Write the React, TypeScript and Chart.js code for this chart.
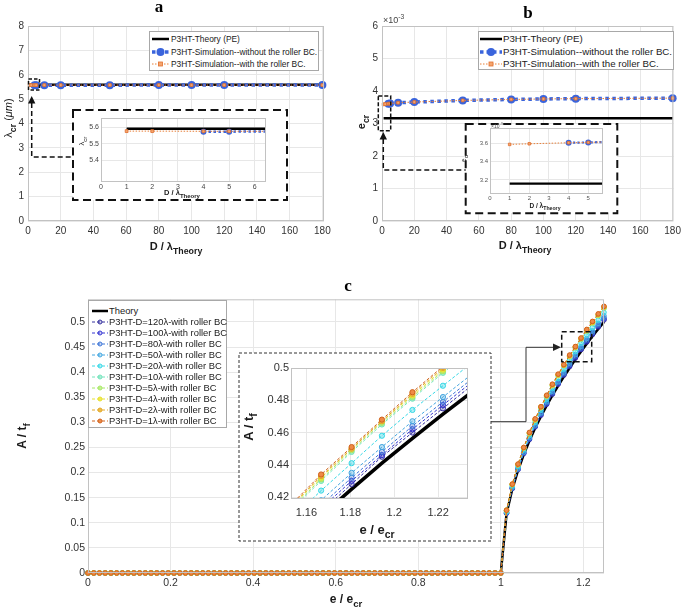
import React, { useEffect, useRef } from 'react';
import { Chart, registerables } from 'chart.js';

Chart.register(...registerables);

const FONT = '"Liberation Sans", Arial, Helvetica, sans-serif';
const SERIF = '"Liberation Serif", "Times New Roman", Times, serif';
Chart.defaults.font.family = FONT;

// ---------------- Panel a / b shared x data ----------------
const THEORY_D = [1, 180];
const NO_ROLLER_D = [4, 5, 10, 20, 50, 80, 100, 120, 180];
const ROLLER_D = [1, 2, 4, 5, 10, 20, 50, 80, 100, 120, 180];
const AB_X_TICKS = [0, 20, 40, 60, 80, 100, 120, 140, 160, 180];

// Panel a: lambda_cr (um)
const A_THEORY = [5.59, 5.59];
const A_NO_ROLLER = [5.573, 5.573, 5.574, 5.574, 5.574, 5.575, 5.575, 5.575, 5.575];
const A_ROLLER = [5.576, 5.576, 5.575, 5.575, 5.575, 5.575, 5.576, 5.576, 5.576, 5.576, 5.576];
const A_Y_TICKS = [0, 1, 2, 3, 4, 5, 6, 7, 8];
const A_INSET_X_TICKS = [0, 1, 2, 3, 4, 5, 6];
const A_INSET_Y_TICKS = [5.4, 5.5, 5.6];

// Panel b: e_cr (x 10^-3)
const B_THEORY = [3.16, 3.16];
const B_NO_ROLLER = [3.608, 3.612, 3.64, 3.66, 3.71, 3.74, 3.755, 3.765, 3.78];
const B_ROLLER = [3.59, 3.597, 3.608, 3.612, 3.64, 3.66, 3.71, 3.74, 3.755, 3.765, 3.78];
const B_Y_TICKS = [0, 1, 2, 3, 4, 5, 6];
const B_INSET_X_TICKS = [0, 1, 2, 3, 4, 5];
const B_INSET_Y_TICKS = [3.2, 3.4, 3.6];

// ---------------- Panel c ----------------
const C_X_TICKS = [0, 0.2, 0.4, 0.6, 0.8, 1, 1.2];
const C_Y_TICKS = [0, 0.05, 0.1, 0.15, 0.2, 0.25, 0.3, 0.35, 0.4, 0.45, 0.5];
const C_INSET_X_TICKS = [1.16, 1.18, 1.2, 1.22];
const C_INSET_Y_TICKS = [0.42, 0.44, 0.46, 0.48, 0.5];

// e / e_cr sample positions before buckling (0 .. 1)
const C_PRE_X = [
  0, 0.0139, 0.0278, 0.0417, 0.0556, 0.0694, 0.0833, 0.0972, 0.1111, 0.125,
  0.1389, 0.1528, 0.1667, 0.1806, 0.1944, 0.2083, 0.2222, 0.2361, 0.25, 0.2639,
  0.2778, 0.2917, 0.3056, 0.3194, 0.3333, 0.3472, 0.3611, 0.375, 0.3889, 0.4028,
  0.4167, 0.4306, 0.4444, 0.4583, 0.4722, 0.4861, 0.5, 0.5139, 0.5278, 0.5417,
  0.5556, 0.5694, 0.5833, 0.5972, 0.6111, 0.625, 0.6389, 0.6528, 0.6667, 0.6806,
  0.6944, 0.7083, 0.7222, 0.7361, 0.75, 0.7639, 0.7778, 0.7917, 0.8056, 0.8194,
  0.8333, 0.8472, 0.8611, 0.875, 0.8889, 0.9028, 0.9167, 0.9306, 0.9444, 0.9583,
  0.9722, 0.9861, 1,
];
// A / t_f before buckling (flat)
const C_PRE_ZERO = [
  0, 0, 0, 0, 0, 0, 0, 0, 0, 0,
  0, 0, 0, 0, 0, 0, 0, 0, 0, 0,
  0, 0, 0, 0, 0, 0, 0, 0, 0, 0,
  0, 0, 0, 0, 0, 0, 0, 0, 0, 0,
  0, 0, 0, 0, 0, 0, 0, 0, 0, 0,
  0, 0, 0, 0, 0, 0, 0, 0, 0, 0,
  0, 0, 0, 0, 0, 0, 0, 0, 0, 0,
  0, 0, 0,
];
// e / e_cr after buckling
const C_POST_X = [1.0139, 1.0278, 1.0417, 1.0556, 1.0694, 1.0833, 1.0972, 1.1111, 1.125, 1.1389, 1.1528, 1.1667, 1.1806, 1.1944, 1.2083, 1.2222, 1.2361, 1.25];
const C_THEORY_POST = [0.1179, 0.1667, 0.2041, 0.2357, 0.2635, 0.2887, 0.3118, 0.3333, 0.3536, 0.3727, 0.3909, 0.4082, 0.4249, 0.441, 0.4564, 0.4714, 0.4859, 0.5];
const C_D120 = [0.119, 0.168, 0.206, 0.238, 0.266, 0.291, 0.314, 0.336, 0.356, 0.376, 0.394, 0.411, 0.428, 0.445, 0.46, 0.475, 0.49, 0.504];
const C_D100 = [0.119, 0.169, 0.207, 0.239, 0.267, 0.292, 0.316, 0.337, 0.358, 0.377, 0.396, 0.413, 0.43, 0.446, 0.462, 0.477, 0.492, 0.506];
const C_D80 = [0.12, 0.169, 0.207, 0.24, 0.268, 0.293, 0.317, 0.339, 0.359, 0.379, 0.397, 0.415, 0.432, 0.448, 0.464, 0.479, 0.494, 0.508];
const C_D50 = [0.121, 0.171, 0.209, 0.241, 0.27, 0.295, 0.319, 0.341, 0.362, 0.381, 0.4, 0.418, 0.435, 0.451, 0.467, 0.482, 0.497, 0.512];
const C_D20 = [0.122, 0.173, 0.212, 0.245, 0.274, 0.3, 0.324, 0.346, 0.367, 0.387, 0.406, 0.424, 0.441, 0.458, 0.474, 0.489, 0.504, 0.519];
const C_D10 = [0.124, 0.176, 0.215, 0.248, 0.278, 0.304, 0.329, 0.351, 0.373, 0.393, 0.412, 0.43, 0.448, 0.465, 0.481, 0.497, 0.512, 0.527];
const C_D5 = [0.125, 0.176, 0.216, 0.249, 0.278, 0.305, 0.329, 0.352, 0.373, 0.394, 0.413, 0.431, 0.449, 0.466, 0.482, 0.498, 0.513, 0.528];
const C_D4 = [0.125, 0.176, 0.216, 0.249, 0.279, 0.305, 0.33, 0.353, 0.374, 0.394, 0.414, 0.432, 0.45, 0.467, 0.483, 0.499, 0.514, 0.529];
const C_D2 = [0.125, 0.177, 0.216, 0.25, 0.279, 0.306, 0.331, 0.353, 0.375, 0.395, 0.414, 0.433, 0.45, 0.467, 0.484, 0.5, 0.515, 0.53];
const C_D1 = [0.125, 0.177, 0.217, 0.25, 0.28, 0.307, 0.331, 0.354, 0.376, 0.396, 0.415, 0.434, 0.451, 0.468, 0.485, 0.501, 0.516, 0.531];
const C_LABELS = [
  'P3HT-D=120λ-with roller BC', 'P3HT-D=100λ-with roller BC', 'P3HT-D=80λ-with roller BC',
  'P3HT-D=50λ-with roller BC', 'P3HT-D=20λ-with roller BC', 'P3HT-D=10λ-with roller BC',
  'P3HT-D=5λ-with roller BC', 'P3HT-D=4λ-with roller BC', 'P3HT-D=2λ-with roller BC',
  'P3HT-D=1λ-with roller BC',
];
const C_POST = [C_D120, C_D100, C_D80, C_D50, C_D20, C_D10, C_D5, C_D4, C_D2, C_D1];

// ---------------- styles ----------------
const C_COLORS = ['#35309e', '#3535d2', '#3c74d6', '#42a6e0', '#36d8e6', '#74e4bc', '#a8e866', '#e6e030', '#e2a82a', '#d0621e'];
const C_FILLS = ['rgba(53,48,158,0.25)', 'rgba(53,53,210,0.25)', 'rgba(60,116,214,0.3)', 'rgba(66,166,224,0.35)', 'rgba(54,216,230,0.4)', 'rgba(116,228,188,0.6)', 'rgba(178,238,116,0.75)', 'rgba(238,232,58,0.85)', '#eebc48', '#ee8a46'];
const BLUE = '#3a64dc';
const ORANGE = '#e8803a';
const GRID = '#e7e7e7';
const FRAME = '#c2c2c2';
const TICK = '#333333';

const pts = (xs: number[], ys: number[]) => xs.map((x, i) => ({ x, y: ys[i] }));

const framePlugin = {
  id: 'frame',
  beforeDraw(chart: any, _a: any, o: any) {
    if (o && o.fill) {
      const { ctx, chartArea: c } = chart;
      ctx.save();
      ctx.fillStyle = o.fill;
      ctx.fillRect(c.left, c.top, c.right - c.left, c.bottom - c.top);
      ctx.restore();
    }
  },
  afterDraw(chart: any, _a: any, o: any) {
    const { ctx, chartArea: c } = chart;
    ctx.save();
    ctx.strokeStyle = (o && o.color) || FRAME;
    ctx.lineWidth = 1;
    ctx.strokeRect(c.left + 0.5, c.top + 0.5, c.right - c.left - 1, c.bottom - c.top - 1);
    ctx.restore();
  },
};

function linAxis(axis: 'x' | 'y', min: number, max: number, ticks: number[], thick: number, size: number, pad: number, color = TICK, fmt: (v: number) => string = (v) => String(v)) {
  return {
    type: 'linear',
    position: axis === 'x' ? 'bottom' : 'left',
    min,
    max,
    afterBuildTicks: (s: any) => {
      s.ticks = ticks.map((v) => ({ value: v }));
    },
    afterFit: (s: any) => {
      if (axis === 'x') s.height = thick;
      else s.width = thick;
    },
    grid: { color: GRID, lineWidth: 1, drawTicks: false },
    border: { display: false },
    ticks: {
      autoSkip: false,
      maxRotation: 0,
      minRotation: 0,
      padding: pad,
      color,
      font: { family: FONT, size },
      callback: (v: any) => fmt(Number(v)),
    },
  };
}

function cfg(datasets: any[], x: any, y: any, padTop: number, padRight: number, fill?: string) {
  return {
    type: 'line',
    data: { datasets },
    options: {
      responsive: false,
      maintainAspectRatio: false,
      animation: false,
      events: [],
      layout: { padding: { top: padTop, right: padRight, left: 0, bottom: 0 } },
      plugins: { legend: { display: false }, tooltip: { enabled: false }, frame: { fill } },
      scales: { x, y },
      elements: { line: { tension: 0, fill: false } },
    },
    plugins: [framePlugin],
  } as any;
}

function abSets(theory: number[], noRoller: number[], roller: number[], k: any) {
  return [
    { data: pts(THEORY_D, theory), borderColor: '#000', borderWidth: k.tw, pointRadius: 0, order: 3, clip: k.clip },
    {
      data: pts(NO_ROLLER_D, noRoller), borderColor: BLUE, borderWidth: k.bw, borderDash: k.bd,
      pointRadius: k.br, pointBackgroundColor: BLUE, pointBorderColor: BLUE, pointBorderWidth: 0, order: 2, clip: k.clip,
    },
    {
      data: pts(ROLLER_D, roller), borderColor: ORANGE, borderWidth: 1, borderDash: [1.5, 1.5], pointStyle: 'rect',
      pointRadius: k.or, pointBackgroundColor: '#f5a56e', pointBorderColor: '#e07030', pointBorderWidth: 0.8, order: 1, clip: k.clip,
    },
  ];
}

function cSets(inset: boolean) {
  const clip = inset ? undefined : false;
  const sets: any[] = [
    {
      data: pts([0, 1].concat(C_POST_X), [0, 0].concat(C_THEORY_POST)), borderColor: '#000',
      borderWidth: inset ? 3.5 : 2.5, pointRadius: 0, order: 20, clip,
    },
  ];
  C_POST.forEach((post, i) => {
    sets.push({
      data: pts(C_PRE_X.concat(C_POST_X), C_PRE_ZERO.concat(post)),
      borderColor: C_COLORS[i], borderWidth: 1, borderDash: [3, 2],
      pointRadius: inset ? 2.6 : 2.3, pointBorderWidth: 1, pointBorderColor: C_COLORS[i],
      pointBackgroundColor: C_FILLS[i], order: 10 - i, clip,
    });
  });
  return sets;
}

const makeA = () => cfg(abSets(A_THEORY, A_NO_ROLLER, A_ROLLER, { tw: 2.5, bw: 3.5, bd: [3.5, 3.5], br: 4, or: 2, clip: false }),
  linAxis('x', 0, 181, AB_X_TICKS, 20, 10, 4), linAxis('y', 0, 8, A_Y_TICKS, 28, 10, 4), 10, 16);
const makeAInset = () => cfg(abSets(A_THEORY, A_NO_ROLLER, A_ROLLER, { tw: 2.5, bw: 2.5, bd: [2.5, 2.5], br: 3, or: 2, clip: undefined }),
  linAxis('x', 0, 6.44, A_INSET_X_TICKS, 10, 7, 1, '#444'), linAxis('y', 5.27, 5.655, A_INSET_Y_TICKS, 27, 7, 2, '#444', (v) => v.toFixed(1)), 8, 14, '#ffffff');
const makeB = () => cfg(abSets(B_THEORY, B_NO_ROLLER, B_ROLLER, { tw: 2.5, bw: 3.5, bd: [3.5, 3.5], br: 4, or: 2, clip: false }),
  linAxis('x', 0, 180.5, AB_X_TICKS, 20, 10, 4), linAxis('y', 0, 6, B_Y_TICKS, 32, 10, 4), 10, 10);
const makeBInset = () => cfg(abSets(B_THEORY, B_NO_ROLLER, B_ROLLER, { tw: 2.2, bw: 2.2, bd: [2.2, 2.2], br: 3, or: 1.8, clip: undefined }),
  linAxis('x', 0, 5.75, B_INSET_X_TICKS, 9, 6, 1, '#555'), linAxis('y', 3.046, 3.77, B_INSET_Y_TICKS, 20, 6, 2, '#555', (v) => v.toFixed(1)), 7, 10, '#ffffff');
const makeC = () => cfg(cSets(false), linAxis('x', 0, 1.25, C_X_TICKS, 17, 10.5, 4), linAxis('y', 0, 0.545, C_Y_TICKS, 38, 10.5, 3), 9, 16);
const makeCInset = () => cfg(cSets(true), linAxis('x', 1.153, 1.2336, C_INSET_X_TICKS, 21, 11, 7), linAxis('y', 0.4188, 0.5, C_INSET_Y_TICKS, 51, 11, 2), 10, 12, '#ffffff');

function ChartBox({ l, t, w, h, make, z }: any) {
  const ref = useRef<HTMLCanvasElement>(null);
  useEffect(() => {
    const c = new Chart(ref.current as HTMLCanvasElement, make());
    return () => c.destroy();
  }, []);
  return <canvas ref={ref} width={w} height={h} style={{ position: 'absolute', left: l, top: t, width: w, height: h, zIndex: z }} />;
}

const Sub = ({ children }: any) => <span style={{ fontSize: '0.8em', position: 'relative', top: '0.42em' }}>{children}</span>;

function Label({ x, y, size, bold, rotate, family, color, children }: any) {
  return (
    <div style={{
      position: 'absolute', left: x, top: y, transform: `translate(-50%, -50%)${rotate ? ' rotate(-90deg)' : ''}`,
      fontSize: size, fontWeight: bold ? 'bold' : 'normal', fontFamily: family || FONT, whiteSpace: 'nowrap',
      lineHeight: 1, color: color || '#1a1a1a', zIndex: 6,
    }}>{children}</div>
  );
}

function SampleAB({ kind, w }: any) {
  return (
    <svg width={w} height={10} style={{ display: 'block' }}>
      {kind === 't' && <line x1={0} y1={5} x2={w} y2={5} stroke="#000" strokeWidth={2.5} />}
      {kind === 'b' && (
        <g>
          <line x1={0} y1={5} x2={w} y2={5} stroke={BLUE} strokeWidth={3.5} strokeDasharray="3.5 3" />
          <circle cx={w / 2} cy={5} r={4} fill={BLUE} />
        </g>
      )}
      {kind === 'o' && (
        <g>
          <line x1={0} y1={5} x2={w} y2={5} stroke={ORANGE} strokeWidth={1} strokeDasharray="1.5 1.5" />
          <rect x={w / 2 - 2} y={3} width={4} height={4} fill="#f5a56e" stroke="#e07030" strokeWidth={0.8} />
        </g>
      )}
    </svg>
  );
}

const AB_LEGEND = [
  { kind: 't', text: 'P3HT-Theory (PE)' },
  { kind: 'b', text: 'P3HT-Simulation--without the roller BC.' },
  { kind: 'o', text: 'P3HT-Simulation--with the roller BC.' },
];

function LegendAB({ l, t, w, h, font, rows, sx, sw, tx }: any) {
  return (
    <div style={{ position: 'absolute', left: l, top: t, width: w, height: h, background: '#fff', border: '1px solid #a8a8a8', boxSizing: 'border-box', zIndex: 4 }}>
      {AB_LEGEND.map((r, i) => (
        <React.Fragment key={i}>
          <div style={{ position: 'absolute', left: sx, top: rows[i] - 5 }}><SampleAB kind={r.kind} w={sw} /></div>
          <div style={{ position: 'absolute', left: tx, top: rows[i], transform: 'translateY(-50%)', fontSize: font, fontFamily: FONT, color: '#1a1a1a', whiteSpace: 'nowrap', lineHeight: 1 }}>{r.text}</div>
        </React.Fragment>
      ))}
    </div>
  );
}

function LegendC() {
  const rows = [{ text: 'Theory', color: '#000', fill: '', theory: true }].concat(
    C_LABELS.map((t, i) => ({ text: t, color: C_COLORS[i], fill: C_FILLS[i], theory: false })) as any,
  );
  return (
    <div style={{ position: 'absolute', left: 88, top: 300, width: 139, height: 128, background: '#fff', border: '1px solid #a8a8a8', boxSizing: 'border-box', zIndex: 4 }}>
      {rows.map((r: any, i: number) => {
        const cy = 10 + i * 11;
        return (
          <React.Fragment key={i}>
            <svg width={16} height={8} style={{ position: 'absolute', left: 3, top: cy - 4 }}>
              {r.theory ? (
                <line x1={0} y1={4} x2={16} y2={4} stroke="#000" strokeWidth={2.5} />
              ) : (
                <g>
                  <line x1={0} y1={4} x2={16} y2={4} stroke={r.color} strokeWidth={1} strokeDasharray="3 2" />
                  <circle cx={8} cy={4} r={2} fill={r.fill} stroke={r.color} strokeWidth={1} />
                </g>
              )}
            </svg>
            <div style={{ position: 'absolute', left: 20, top: cy, transform: 'translateY(-50%)', fontSize: 9.4, fontFamily: FONT, color: '#1a1a1a', whiteSpace: 'nowrap', lineHeight: 1 }}>{r.text}</div>
          </React.Fragment>
        );
      })}
    </div>
  );
}

const WhiteBox = ({ l, t, w, h }: any) => <div style={{ position: 'absolute', left: l, top: t, width: w, height: h, background: '#fff', zIndex: 2 }} />;

export default function App() {
  return (
    <div style={{ position: 'fixed', left: 0, top: 0, width: 685, height: 613, background: '#fff', overflow: 'hidden', fontFamily: FONT }}>
      {/* main charts */}
      <ChartBox l={0} t={16} w={340} h={225} make={makeA} z={1} />
      <ChartBox l={350} t={16} w={335} h={225} make={makeB} z={1} />
      <ChartBox l={50} t={290} w={570} h={300} make={makeC} z={1} />

      {/* inset backgrounds */}
      <WhiteBox l={73} t={110} w={214} h={90} />
      <WhiteBox l={466} t={124} w={151} h={89} />
      <WhiteBox l={239} t={353} w={252} h={188} />

      {/* inset charts */}
      <ChartBox l={74} t={110} w={206} h={82} make={makeAInset} z={3} />
      <ChartBox l={470} t={121} w={143} h={82} make={makeBInset} z={3} />
      <ChartBox l={240} t={358} w={240} h={162} make={makeCInset} z={3} />

      {/* annotations */}
      <svg width={685} height={613} style={{ position: 'absolute', left: 0, top: 0, zIndex: 5, pointerEvents: 'none' }}>
        {/* panel a */}
        <rect x={28.5} y={79} width={11} height={11} fill="none" stroke="#111" strokeWidth={1.5} strokeDasharray="3.5 2" />
        <polyline points="31.7,103 31.7,157 73,157" fill="none" stroke="#111" strokeWidth={1.5} strokeDasharray="5 3" />
        <polygon points="31.7,96 28,103.5 35.4,103.5" fill="#111" />
        <rect x={73} y={110} width={214} height={90} fill="none" stroke="#111" strokeWidth={2} strokeDasharray="8 4.5" />
        {/* panel b */}
        <rect x={378.3} y={96} width={12.4} height={34.7} fill="none" stroke="#111" strokeWidth={1.5} strokeDasharray="4 2" />
        <polyline points="383.3,139 383.3,170 465.7,170" fill="none" stroke="#111" strokeWidth={1.5} strokeDasharray="5 3" />
        <polygon points="383.3,132 379.6,139.5 387,139.5" fill="#111" />
        <rect x={465.7} y={124} width={151.6} height={89.3} fill="none" stroke="#111" strokeWidth={2} strokeDasharray="8 4.5" />
        {/* panel c */}
        <rect x={239} y={353} width={252} height={188} fill="none" stroke="#333" strokeWidth={1} strokeDasharray="3 2" />
        <rect x={561.7} y={331.7} width={30} height={30} fill="none" stroke="#111" strokeWidth={1.5} strokeDasharray="5 3" />
        <polyline points="491,421.7 526,421.7 526,347.3 554,347.3" fill="none" stroke="#333" strokeWidth={1} />
        <polygon points="561,347.3 553,343.6 553,351" fill="#222" />
      </svg>

      {/* legends */}
      <LegendAB l={149} t={31} w={170} h={40} font={8.4} rows={[6.7, 19.5, 32]} sx={2} sw={17} tx={21} />
      <LegendAB l={478} t={31} w={196} h={39} font={9.7} rows={[7, 19.5, 32]} sx={1} sw={22} tx={24} />
      <LegendC />

      {/* titles */}
      <Label x={159} y={5.5} size={17} bold family={SERIF} color="#000">a</Label>
      <Label x={528} y={12} size={17} bold family={SERIF} color="#000">b</Label>
      <Label x={348} y={285} size={17} bold family={SERIF} color="#000">c</Label>

      {/* panel a axis titles */}
      <Label x={176} y={246} size={11} bold>D / λ<Sub>Theory</Sub></Label>
      <Label x={8} y={118} size={11} rotate>λ<Sub><b>cr</b></Sub> (<i>μm</i>)</Label>
      <Label x={182} y={193} size={7.5} bold>D / λ<Sub>Theory</Sub></Label>
      <Label x={82} y={141} size={7.5} rotate>λ<Sub>cr</Sub></Label>

      {/* panel b axis titles */}
      <Label x={525} y={245} size={11} bold>D / λ<Sub>Theory</Sub></Label>
      <Label x={361} y={122} size={11} bold rotate>e<Sub>cr</Sub></Label>
      <div style={{ position: 'absolute', left: 383, top: 14, fontSize: 9, color: '#444', fontFamily: FONT, zIndex: 6, lineHeight: 1 }}>×10<sup style={{ fontSize: '0.75em' }}>-3</sup></div>
      <Label x={545} y={206} size={6.5} bold>D / λ<Sub>Theory</Sub></Label>
      <Label x={464} y={158} size={6.5} rotate>e<Sub>cr</Sub></Label>
      <div style={{ position: 'absolute', left: 491, top: 123, fontSize: 5, color: '#555', fontFamily: FONT, zIndex: 6, lineHeight: 1 }}>×10<sup style={{ fontSize: '0.75em' }}>-3</sup></div>

      {/* panel c axis titles */}
      <Label x={346} y={599} size={12} bold>e / e<Sub>cr</Sub></Label>
      <Label x={22} y={436} size={12} bold rotate>A / t<Sub>f</Sub></Label>
      <Label x={377} y={530} size={13} bold>e / e<Sub>cr</Sub></Label>
      <Label x={249} y={427} size={13} bold rotate>A / t<Sub>f</Sub></Label>
    </div>
  );
}
